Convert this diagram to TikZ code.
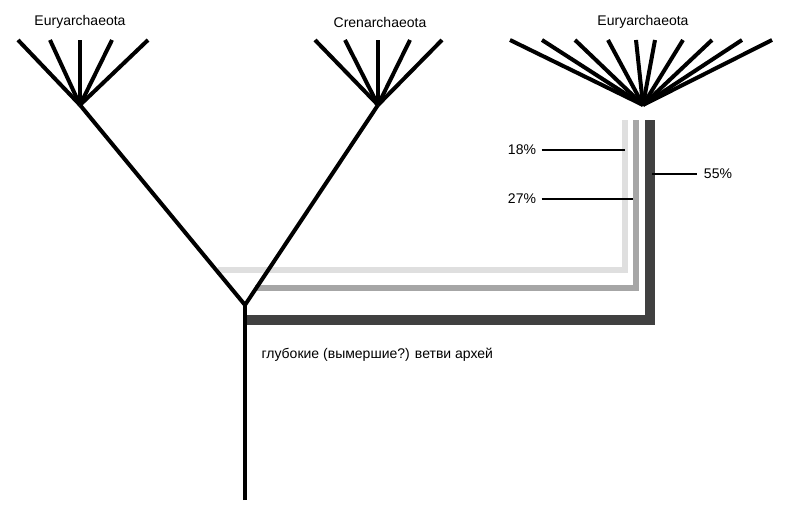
\documentclass[tikz,border=0pt]{standalone}
\usepackage{fontspec}
\setmainfont{Liberation Sans}
\begin{document}
\begin{tikzpicture}[x=0.75pt,y=-0.75pt,
  br/.style={line width=3pt,black},
  lbl/.style={font=\fontsize{10.5}{12}\selectfont,inner sep=1pt},
  tick/.style={line width=0.8pt,black}]
\useasboundingbox (0,0) rectangle (790,517);
\coordinate (root) at (245,500);
\coordinate (j) at (245,305);
\coordinate (L) at (80,105);
\coordinate (M) at (378,105);
\coordinate (R) at (643,105);
% colored connectors (behind)
\draw[line width=4pt,gray!25,line join=miter] (218,270) -- (625,270) -- (625,120);
\draw[line width=4pt,gray!70,line join=miter] (255,288) -- (636,288) -- (636,120);
\draw[line width=7pt,black!75,line join=miter] (245,320) -- (650,320) -- (650,120);
% tree
\draw[br] (root) -- (j);
\draw[br,line join=miter] (L) -- (j) -- (M);
\foreach \x in {18,50,80,112,148}{\draw[br] (L) -- (\x,40);}
\foreach \x in {315,345,378,410,442}{\draw[br] (M) -- (\x,40);}
\foreach \x in {510,542,575,608,636,655,683,712,742,772}{\draw[br] (R) -- (\x,40);}
% labels
\node[lbl] (t1) at (80,22) {Euryarchaeota};
\node[lbl] (t2) at (380,22) {Crenarchaeota};
\node[lbl] (t3) at (643,22) {Euryarchaeota};
\node[lbl] (p18) at (522,150) {18\%};
\node[lbl] (p27) at (522,199) {27\%};
\node[lbl] (p55) at (718,174) {55\%};
\coordinate (a18) at (625,150);
\coordinate (a27) at (633,199);
\coordinate (a55) at (652,174);
\draw[tick] (p18.east) ++(4,0) -- (a18);
\draw[tick] (p27.east) ++(4,0) -- (a27);
\draw[tick] (a55) -- ([xshift=-4]p55.west);
\node[lbl,anchor=west] (deep) at (260,355) {глубокие (вымершие?) ветви архей};
\end{tikzpicture}
\end{document}
